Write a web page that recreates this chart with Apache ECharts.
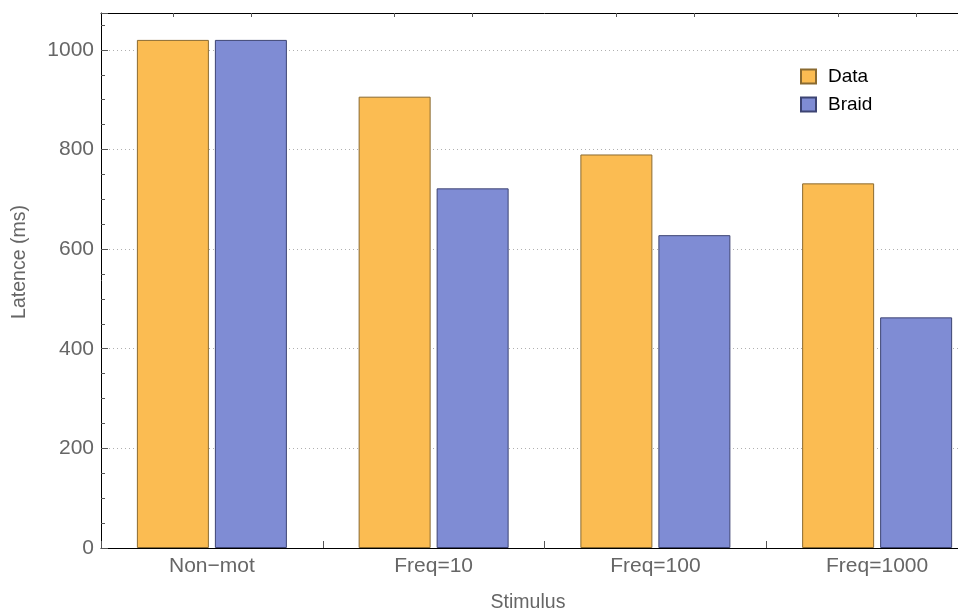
<!DOCTYPE html>
<html>
<head>
<meta charset="utf-8">
<script src="https://cdn.jsdelivr.net/npm/echarts@6/dist/echarts.min.js"></script>
<style>html,body{margin:0;padding:0;background:#fff;overflow:hidden;width:958px;height:615px}#c{width:988px;height:615px}</style>
</head>
<body>
<div id="c"></div>
<script>
const categories = ['Non\u2212mot', 'Freq=10', 'Freq=100', 'Freq=1000'];
const dataValues = [1020, 906, 790, 732];
const braidValues = [1020, 722, 628, 463];
const yTicks = [0, 200, 400, 600, 800, 1000];

const gridLeft = 101, gridTop = 13, gridWidth = 887, gridHeight = 535;
const barW = 72, barGapPx = 6;
const band = gridWidth / categories.length;
const off = (barW + barGapPx) / 2 / band;
const centerTicks = [];
categories.forEach((c, i) => { centerTicks.push(i + 0.5 - off, i + 0.5 + off); });

const font = 'Liberation Sans, Arial, sans-serif';
const chart = echarts.init(document.getElementById('c'), null, {renderer: 'canvas'});
chart.setOption({
  animation: false,
  backgroundColor: '#fff',
  grid: {left: gridLeft, top: gridTop, width: gridWidth, height: gridHeight, containLabel: false},
  legend: {
    data: ['Data', 'Braid'], orient: 'vertical', left: 800, top: 67, padding: 0,
    itemWidth: 15, itemHeight: 14, itemGap: 9, icon: 'rect',
    textStyle: {fontSize: 19, color: '#000', fontFamily: font, padding: [0, 0, 0, 7]}
  },
  xAxis: [
    {
      type: 'category', data: categories, position: 'bottom',
      axisLine: {show: true, lineStyle: {color: '#000', width: 1}},
      axisTick: {show: true, inside: true, length: 7, lineStyle: {color: '#555'}},
      axisLabel: {fontSize: 21, color: '#666', fontFamily: font, margin: 8},
      splitLine: {show: false}
    },
    {
      type: 'value', min: 0, max: categories.length, position: 'bottom', gridIndex: 0,
      axisLine: {show: false}, axisLabel: {show: false}, splitLine: {show: false},
      axisTick: {show: true, inside: true, length: 4, customValues: centerTicks, lineStyle: {color: '#555'}}
    },
    {
      type: 'value', min: 0, max: categories.length, position: 'top', gridIndex: 0,
      axisLine: {show: true, onZero: false, lineStyle: {color: '#000', width: 1}},
      axisLabel: {show: false}, splitLine: {show: false},
      axisTick: {show: true, inside: true, length: 4, customValues: centerTicks, lineStyle: {color: '#555'}}
    }
  ],
  yAxis: {
    type: 'value', min: 0, max: 1074, interval: 200,
    axisLine: {show: true, lineStyle: {color: '#000', width: 1}},
    axisTick: {show: true, inside: true, length: 7, lineStyle: {color: '#555'}},
    minorTick: {show: true, splitNumber: 4, length: 4, lineStyle: {color: '#555'}},
    axisLabel: {fontSize: 21, color: '#666', fontFamily: font, margin: 7,
      formatter: v => (yTicks.indexOf(v) >= 0 ? String(v) : '')},
    splitLine: {show: true, lineStyle: {color: '#b0b0b0', type: [1, 3], width: 1}}
  },
  graphic: [
    {type: 'text', x: 528, y: 603, style: {text: 'Stimulus', fontSize: 19.5, fill: '#666', fontFamily: font, align: 'center', verticalAlign: 'middle'}},
    {type: 'text', x: 20, y: 262, rotation: Math.PI / 2, style: {text: 'Latence (ms)', fontSize: 19.5, fill: '#666', fontFamily: font, align: 'center', verticalAlign: 'middle'}}
  ],
  series: [
    {
      name: 'Data', type: 'bar', data: dataValues, xAxisIndex: 0,
      barWidth: barW, barGap: (barGapPx / barW * 100) + '%',
      itemStyle: {color: '#FBBC52', borderColor: '#8a6a30', borderWidth: 1}
    },
    {
      name: 'Braid', type: 'bar', data: braidValues, xAxisIndex: 0,
      barWidth: barW, barGap: (barGapPx / barW * 100) + '%',
      itemStyle: {color: '#7F8CD4', borderColor: '#3d4473', borderWidth: 1}
    }
  ]
});
</script>
</body>
</html>
